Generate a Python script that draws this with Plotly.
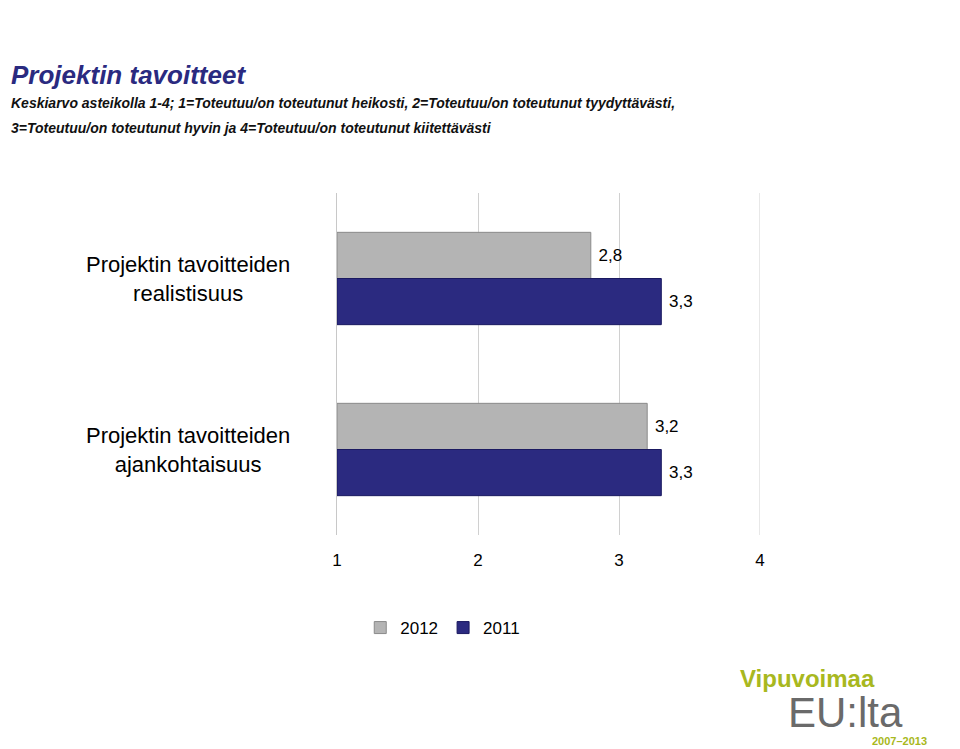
import plotly.graph_objects as go

categories = ["Projektin tavoitteiden<br>realistisuus", "Projektin tavoitteiden<br>ajankohtaisuus"]
series_names = ["2012", "2011"]
values_2012 = [2.8, 3.2]
values_2011 = [3.3, 3.3]
tick_vals = [1, 2, 3, 4]

def fmt(v):
    return f"{v:.1f}".replace(".", ",")

fig = go.Figure()
for name, vals, col, line in [(series_names[0], values_2012, "#b4b4b4", "#8a8a8a"),
                              (series_names[1], values_2011, "#2b2a80", "#1a1960")]:
    fig.add_trace(go.Bar(
        y=categories, x=[v - 1 for v in vals], base=1, orientation="h", name=name,
        marker=dict(color=col, line=dict(color=line, width=1)),
        text=[" " + fmt(v) for v in vals], textposition="outside", cliponaxis=False,
        textfont=dict(family="Liberation Sans", size=17, color="black"),
    ))

fig.update_layout(
    width=960, height=749, barmode="group", bargap=0.46, bargroupgap=0.0,
    plot_bgcolor="white", paper_bgcolor="white",
    margin=dict(l=329, r=208, t=185, b=222),
    font=dict(family="Liberation Sans", color="black"),
    xaxis=dict(range=[1, 4], tickvals=tick_vals, showgrid=True, gridcolor="#d0d0d0",
               zeroline=False, tickfont=dict(size=17), ticks="outside", ticklen=10,
               tickcolor="white", automargin=False),
    yaxis=dict(autorange="reversed", showticklabels=False, showline=True,
               linecolor="#c8c8c8", ticks="", automargin=False),
    legend=dict(orientation="h", x=0.25, xanchor="center", y=-0.272, yanchor="middle",
                font=dict(size=17)),
    showlegend=True,
)
fig.add_shape(type="line", xref="x", yref="paper", x0=4, x1=4, y0=0, y1=1,
              line=dict(color="#d0d0d0", width=1))
for i, c in enumerate(categories):
    fig.add_annotation(text=c, xref="paper", yref="y", x=(188 - 337) / 423, y=i,
                       xanchor="center", showarrow=False, font=dict(size=22))
x_left = (9 - 337) / 423
fig.add_annotation(text="<b><i>Projektin tavoitteet</i></b>", xref="paper", yref="paper",
                   x=x_left, y=(535 - 75) / 342, xanchor="left", yanchor="middle", showarrow=False,
                   font=dict(size=26, color="#2a2a80"))
fig.add_annotation(text="<b><i>Keskiarvo asteikolla 1-4; 1=Toteutuu/on toteutunut heikosti, 2=Toteutuu/on toteutunut tyydyttävästi,</i></b>",
                   xref="paper", yref="paper", x=x_left, y=(535 - 103) / 342, xanchor="left",
                   yanchor="middle", showarrow=False, font=dict(size=14, color="#111"))
fig.add_annotation(text="<b><i>3=Toteutuu/on toteutunut hyvin ja 4=Toteutuu/on toteutunut kiitettävästi</i></b>",
                   xref="paper", yref="paper", x=x_left, y=(535 - 128) / 342, xanchor="left",
                   yanchor="middle", showarrow=False, font=dict(size=14, color="#111"))
fig.add_annotation(text="<b>Vipuvoimaa</b>", xref="paper", yref="paper", x=(738 - 337) / 423,
                   y=(535 - 678) / 342, xanchor="left", yanchor="middle", showarrow=False,
                   font=dict(size=24, color="#a8b820"))
fig.add_annotation(text="EU:lta", xref="paper", yref="paper", x=(786 - 337) / 423,
                   y=(535 - 712) / 342, xanchor="left", yanchor="middle", showarrow=False,
                   font=dict(size=42, color="#6a6a6a"))
fig.add_annotation(text="<b>2007–2013</b>", xref="paper", yref="paper", x=(870 - 337) / 423,
                   y=(535 - 741) / 342, xanchor="left", yanchor="middle", showarrow=False,
                   font=dict(size=11, color="#a8b820"))
fig.write_html("out.html")
